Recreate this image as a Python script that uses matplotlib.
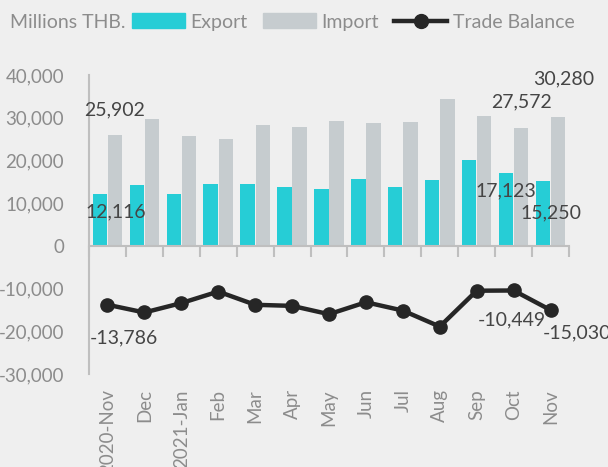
import numpy as np
import matplotlib.pyplot as plt
from matplotlib.patches import Patch
from matplotlib.lines import Line2D

plt.rcParams['font.family'] = ['Lato', 'DejaVu Sans']

# Data (millions THB)
months = ['2020-Nov', 'Dec', '2021-Jan', 'Feb', 'Mar', 'Apr', 'May',
          'Jun', 'Jul', 'Aug', 'Sep', 'Oct', 'Nov']
exports = [12116, 14300, 12200, 14450, 14500, 13800, 13200,
           15600, 13800, 15500, 20100, 17123, 15250]
imports = [25902, 29800, 25800, 25000, 28400, 27800, 29300,
           28700, 28900, 34400, 30400, 27572, 30280]
balance = [-13786, -15600, -13400, -10700, -13800, -14050, -16000,
           -13200, -15150, -18900, -10500, -10449, -15030]

bg = '#efefef'
c_exp = '#26cdd6'
c_imp = '#c6cccf'
c_bal = '#262626'
c_axis = '#bfbfbf'
c_tick = '#8c8c8c'
c_lab = '#454545'

fig = plt.figure(figsize=(6.08, 4.67), dpi=100, facecolor=bg)
ax = fig.add_axes([89 / 608, 1 - 374 / 467, 480 / 608, 299 / 467])
ax.set_facecolor('none')

x = np.arange(len(months))
ax.bar(x - 0.205, exports, width=0.39, color=c_exp, zorder=2)
ax.bar(x + 0.205, imports, width=0.39, color=c_imp, zorder=2)
ax.plot(x, balance, color=c_bal, lw=3.2, marker='o', ms=9.5, zorder=4)

ax.set_xlim(-0.5, len(months) - 0.5)
ax.set_ylim(-30000, 40000)
yt = np.arange(-30000, 40001, 10000)
ax.set_yticks(yt)
ax.set_yticklabels([f'{v:,}' for v in yt])
ax.tick_params(axis='y', length=0, pad=18, labelsize=13.5, labelcolor=c_tick)

for s in ['top', 'right']:
    ax.spines[s].set_visible(False)
ax.spines['left'].set_color(c_axis)
ax.spines['left'].set_linewidth(1.5)
ax.spines['bottom'].set_position(('data', 0))
ax.spines['bottom'].set_color(c_axis)
ax.spines['bottom'].set_linewidth(1.5)
ax.spines['bottom'].set_zorder(3)
ax.set_xticks(np.arange(-0.5, len(months), 1.0))
ax.set_xticklabels([])
ax.tick_params(axis='x', length=8, width=1.5, color=c_axis, direction='out')

sec = ax.secondary_xaxis(0)
sec.set_xticks(x)
sec.set_xticklabels(months, rotation=90, va='top')
sec.tick_params(length=0, pad=11, labelsize=13.5, labelcolor=c_tick)
sec.spines['bottom'].set_visible(False)

# value labels
def label(xv, yv, txt, dx, dy):
    ax.annotate(txt, (xv, yv), xytext=(dx, dy), textcoords='offset pixels',
                ha='center', va='center', fontsize=14, color=c_lab, zorder=5)

label(x[0] + 0.205, imports[0], f'{imports[0]:,}', 0, 25)
label(x[0] - 0.205, exports[0], f'{exports[0]:,}', 16, -18)
label(x[11] + 0.205, imports[11], f'{imports[11]:,}', 0, 26)
label(x[11] - 0.205, exports[11], f'{exports[11]:,}', 0, -18)
label(x[12] + 0.205, imports[12], f'{imports[12]:,}', 6, 38)
label(x[12] - 0.205, exports[12], f'{exports[12]:,}', 8, -32)
label(x[0], balance[0], f'{balance[0]:,}', 16, -33)
label(x[11], balance[11], f'{balance[11]:,}', -2, -29)
label(x[12], balance[12], f'{balance[12]:,}', 26, -23)

# legend
fig.text(10 / 608, 1 - 23 / 467, 'Millions THB.', ha='left', va='center',
         fontsize=14, color=c_tick)
handles = [Patch(color=c_exp), Patch(color=c_imp),
           Line2D([], [], color=c_bal, lw=3.2, marker='o', ms=10)]
fig.legend(handles, ['Export', 'Import', 'Trade Balance'], ncol=3,
           loc='center left', bbox_to_anchor=(132 / 608, 1 - 22 / 467),
           frameon=False, fontsize=14, labelcolor=c_tick, borderpad=0,
           borderaxespad=0, handlelength=2.7, handleheight=0.8,
           handletextpad=0.3, columnspacing=0.8)

fig.savefig('out.png', dpi=100, facecolor=bg)
